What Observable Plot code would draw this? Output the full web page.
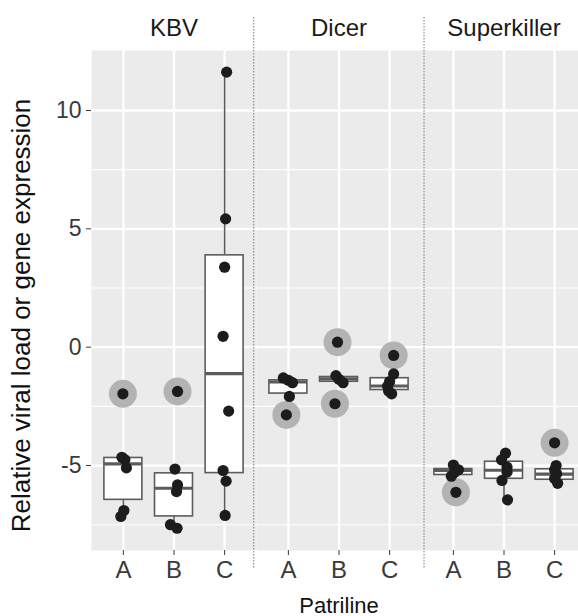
<!DOCTYPE html>
<html><head><meta charset="utf-8">
<script src="https://cdn.jsdelivr.net/npm/d3@7"></script>
<script src="https://cdn.jsdelivr.net/npm/@observablehq/plot@0.6"></script>
<style>
body{margin:0;background:#fff;overflow:hidden}
#chart svg{overflow:hidden;max-width:none}
</style>
</head><body><div id="chart"></div>
<script>
const groups = ["KBV", "Dicer", "Superkiller"];
const patrilines = ["A", "B", "C"];
const yTicks = [-5, 0, 5, 10];
const yMinorTicks = [-7.5, -2.5, 2.5, 7.5];
const xLabel = "Patriline";
const yLabel = "Relative viral load or gene expression";

// box statistics, order: KBV A,B,C · Dicer A,B,C · Superkiller A,B,C
const boxLow    = [-7.15, -7.65, -7.11, -2.08, -1.50, -1.97, -5.45, -6.45, -5.75];
const boxQ1     = [-6.45, -7.15, -5.32, -1.96, -1.46, -1.81, -5.40, -5.56, -5.60];
const boxMedian = [-4.93, -5.96, -1.12, -1.47, -1.34, -1.64, -5.21, -5.20, -5.36];
const boxQ3     = [-4.68, -5.33,  3.88, -1.40, -1.26, -1.31, -5.15, -4.84, -5.16];
const boxHigh   = [-4.65, -5.15, 11.62, -1.30, -1.20, -1.13, -4.98, -4.48, -5.00];

// individual observations, same order
const pointValues = [
  [-1.97, -4.65, -4.75, -5.10, -6.90, -7.15],
  [-1.87, -5.15, -5.82, -6.10, -7.50, -7.65],
  [11.62, 5.42, 3.38, 0.46, -2.70, -5.21, -5.66, -7.11],
  [-1.30, -1.40, -1.50, -2.08, -2.86],
  [0.21, -1.20, -1.36, -1.50, -2.39],
  [-0.35, -1.13, -1.45, -1.65, -1.85, -1.97],
  [-4.98, -5.18, -5.30, -5.45, -6.13],
  [-4.48, -4.76, -5.07, -5.28, -5.63, -6.45],
  [-4.04, -5.00, -5.18, -5.35, -5.55, -5.75]
];
// horizontal jitter (in category units), same order
const pointJitter = [
  [-0.01, -0.03, 0.03, 0.06, 0.01, -0.05],
  [0.07, 0.02, 0.07, 0.05, -0.07, 0.06],
  [0.04, 0.02, 0.00, -0.03, 0.08, -0.03, 0.03, 0.01],
  [-0.10, 0.00, 0.08, 0.02, -0.04],
  [-0.03, -0.06, 0.00, 0.08, -0.08],
  [0.08, 0.08, 0.00, -0.04, -0.02, 0.04],
  [0.00, 0.10, 0.02, -0.04, 0.05],
  [0.03, -0.05, 0.06, 0.06, -0.04, 0.07],
  [0.00, 0.03, 0.00, 0.04, 0.00, 0.06]
];

const boxes = [];
const points = [];
groups.forEach((g, gi) => {
  patrilines.forEach((p, pi) => {
    const k = gi * 3 + pi;
    const b = {group: g, pos: pi + 1, lo: boxLow[k], q1: boxQ1[k], med: boxMedian[k], q3: boxQ3[k], hi: boxHigh[k]};
    boxes.push(b);
    pointValues[k].forEach((v, j) => {
      points.push({group: g, xj: pi + 1 + pointJitter[k][j], value: v, out: v < b.lo - 1e-9 || v > b.hi + 1e-9});
    });
  });
});

const dividers = [{group: "KBV", x: 3.575}, {group: "Superkiller", x: 0.42}];
const half = 0.375;
const boxStroke = "#5c5c5c";
const font = "'Liberation Sans', Arial, Helvetica, sans-serif";

const chart = Plot.plot({
  width: 578, height: 616,
  marginLeft: 90, marginRight: -8, marginTop: 50, marginBottom: 66,
  fx: {domain: groups, padding: 0, axis: null},
  x: {domain: [0.37, 3.63], axis: null},
  y: {domain: [-8.59, 12.535], axis: null},
  style: {fontFamily: font, fontSize: "23px", color: "#3a3a3a", background: "white", overflow: "hidden"},
  marks: [
    Plot.frame({fill: "#ebebeb", stroke: null}),
    Plot.gridY(yMinorTicks, {stroke: "white", strokeOpacity: 1, strokeWidth: 1.1}),
    Plot.gridY(yTicks, {stroke: "white", strokeOpacity: 1, strokeWidth: 2.3}),
    Plot.gridX([1, 2, 3], {stroke: "white", strokeOpacity: 1, strokeWidth: 2.3}),
    Plot.ruleX(dividers, {fx: "group", x: "x", stroke: "#7a7a7a", strokeWidth: 1, strokeDasharray: "1.5,1.5", insetTop: -33, insetBottom: -18}),
    Plot.ruleX(boxes, {fx: "group", x: "pos", y1: "lo", y2: "q1", stroke: boxStroke, strokeWidth: 1.6}),
    Plot.ruleX(boxes, {fx: "group", x: "pos", y1: "q3", y2: "hi", stroke: boxStroke, strokeWidth: 1.6}),
    Plot.rect(boxes, {fx: "group", x1: d => d.pos - half, x2: d => d.pos + half, y1: "q1", y2: "q3", fill: "white", stroke: boxStroke, strokeWidth: 1.6}),
    Plot.ruleY(boxes, {fx: "group", y: "med", x1: d => d.pos - half, x2: d => d.pos + half, stroke: boxStroke, strokeWidth: 3.2}),
    Plot.dot(points.filter(d => d.out), {fx: "group", x: "xj", y: "value", r: 14, fill: "#b3b3b3", stroke: null}),
    Plot.dot(points, {fx: "group", x: "xj", y: "value", r: 5.6, fill: "#1c1c1c", stroke: null}),
    Plot.axisY(yTicks, {tickSize: 5, tickPadding: 5, fontSize: 23, label: null, tickFormat: d => String(d), color: "#3a3a3a"}),
    Plot.axisX([1, 2, 3], {tickSize: 5, tickPadding: 5, fontSize: 24, label: null, tickFormat: d => patrilines[d - 1], color: "#3a3a3a"}),
    Plot.text(groups, {fx: d => d, text: d => d, frameAnchor: "top", lineAnchor: "bottom", dy: -15, fontSize: 24, fill: "#1a1a1a"}),
    Plot.text([xLabel], {fx: () => "Dicer", text: d => d, frameAnchor: "bottom", lineAnchor: "bottom", dy: 62, fontSize: 22, fill: "#111"}),
    Plot.text([yLabel], {fx: () => "KBV", text: d => d, frameAnchor: "left", textAnchor: "middle", rotate: -90, dx: -70, dy: 15, fontSize: 26, fill: "#111"})
  ]
});
document.getElementById("chart").appendChild(chart);
</script>
</body></html>
